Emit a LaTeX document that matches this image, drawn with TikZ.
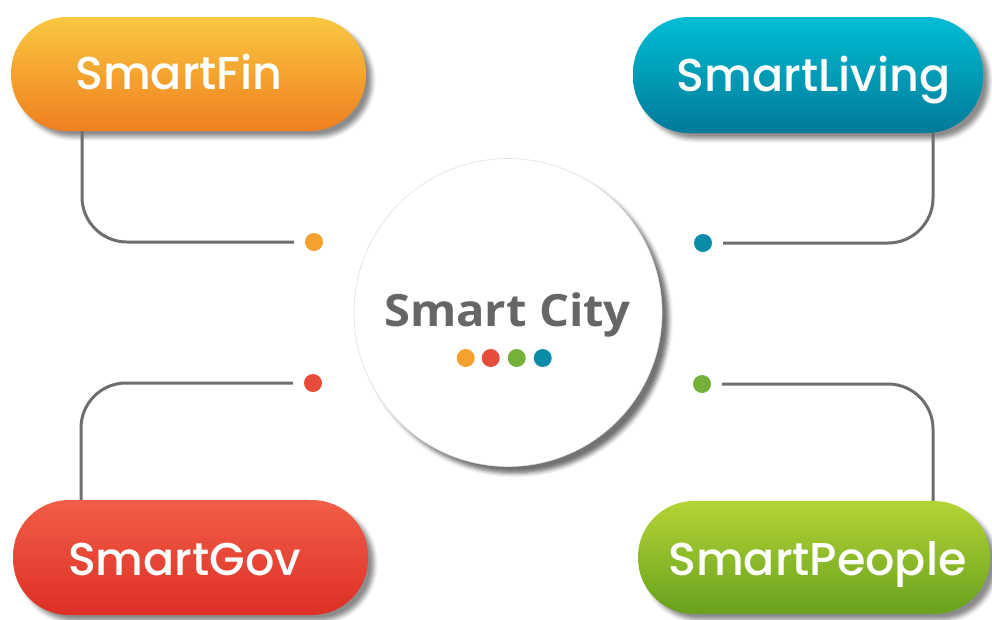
\documentclass[tikz,border=0pt]{standalone}
\usepackage{fontspec}
\newfontfamily\pillfont{Poppins}[UprightFont=* Medium]
\newfontfamily\cityfont{Open Sans}
\usetikzlibrary{shadows.blur}
\definecolor{linegray}{HTML}{6E6E6E}
\definecolor{cityfill}{HTML}{666666}
\definecolor{dorange}{HTML}{F5A02F}
\definecolor{dred}{HTML}{E84C3B}
\definecolor{dgreen}{HTML}{74B03A}
\definecolor{dteal}{HTML}{0A8CA8}
\definecolor{finT}{HTML}{F9C840}
\definecolor{finB}{HTML}{F07F1F}
\definecolor{livT}{HTML}{00BDD3}
\definecolor{livB}{HTML}{007A9A}
\definecolor{govT}{HTML}{F15E48}
\definecolor{govB}{HTML}{DD2F25}
\definecolor{peoT}{HTML}{B5D435}
\definecolor{peoB}{HTML}{67A11E}
\begin{document}
\begin{tikzpicture}[x=1pt,y=-1pt,
  pill/.style={rectangle, rounded corners=56pt, inner sep=0pt,
    blur shadow={shadow xshift=6pt, shadow yshift=-6pt, shadow blur radius=4pt, shadow opacity=45}},
  pilltext/.style={text=white, inner sep=0pt, anchor=base, font=\pillfont\fontsize{46}{54}\selectfont},
  conn/.style={draw=linegray, line width=3pt, rounded corners=45pt},
  dotmark/.style={circle, minimum size=18pt, inner sep=0pt},
  citydot/.style={circle, minimum size=18pt, inner sep=0pt}]
\useasboundingbox (0,0) rectangle (992,619);
% helper x positions
\coordinate (finx) at (82,0);
\coordinate (livx) at (933,0);
\coordinate (govx) at (81,0);
\coordinate (peox) at (933,0);
% pills
\node[pill, minimum width=355pt, minimum height=114pt, top color=finT, bottom color=finB] (fin) at (188.5,74) {};
\node[pill, minimum width=350pt, minimum height=116pt, top color=livT, bottom color=livB] (living) at (808,75) {};
\node[pill, minimum width=355pt, minimum height=115pt, top color=govT, bottom color=govB] (gov) at (190.5,557.5) {};
\node[pill, minimum width=352pt, minimum height=113pt, top color=peoT, bottom color=peoB] (people) at (814,557.5) {};
\node[pilltext] (fint) at (179,89) {SmartFin};
\node[pilltext] (livt) at (813.5,91) {SmartLiving};
\node[pilltext] (govt) at (184.5,575) {SmartGov};
\node[pilltext] (peot) at (817.5,575) {SmartPeople};
% dots
\node[dotmark, fill=dorange] (dfin) at (314,242) {};
\node[dotmark, fill=dteal] (dliv) at (703,243) {};
\node[dotmark, fill=dred] (dgov) at (313,383) {};
\node[dotmark, fill=dgreen] (dpeo) at (702,384) {};
% connectors
\draw[conn] ([xshift=-11pt]dfin.west) -| (fin.south -| finx);
\draw[conn] ([xshift=11pt]dliv.east) -| (living.south -| livx);
\draw[conn] ([xshift=-11pt]dgov.west) -| (gov.north -| govx);
\draw[conn] ([xshift=11pt]dpeo.east) -| (people.north -| peox);
% center circle
\node[circle, minimum size=308pt, inner sep=0pt, fill=white, draw=black!12, line width=0.6pt,
  blur shadow={shadow xshift=7pt, shadow yshift=-7pt, shadow blur radius=4pt, shadow opacity=55}] (city) at (508,312.5) {};
\node[text=cityfill, inner sep=0pt, anchor=base, xscale=1.06, font=\cityfont\bfseries\fontsize{44.5}{52}\selectfont] (citylabel) at (507.5,326) {Smart City};
\node[citydot, fill=dorange] (c1) at (465.7,358) {};
\node[citydot, fill=dred] (c2) at (490.7,358) {};
\node[citydot, fill=dgreen] (c3) at (516.7,358) {};
\node[citydot, fill=dteal] (c4) at (542.7,358) {};
\end{tikzpicture}
\end{document}
